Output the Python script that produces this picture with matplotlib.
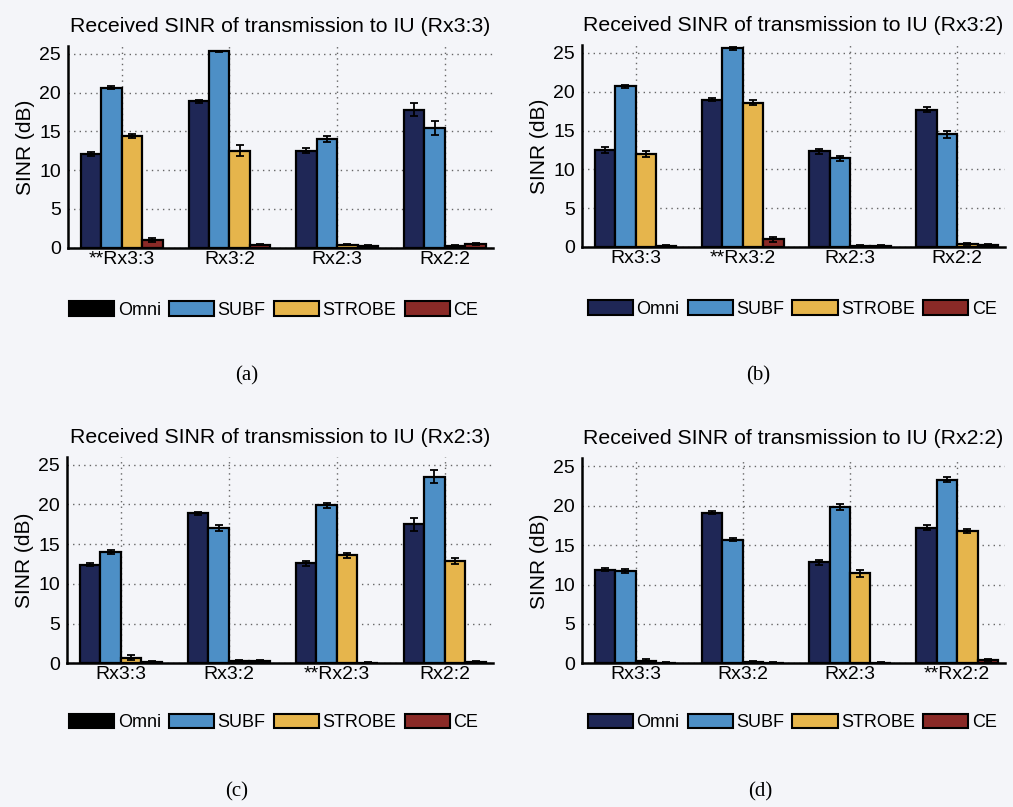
import numpy as np
import matplotlib
matplotlib.use("Agg")
import matplotlib.pyplot as plt
from matplotlib.patches import Patch

plt.rcParams['font.family'] = ['Liberation Sans', 'DejaVu Sans']

schemes = ['Omni', 'SUBF', 'STROBE', 'CE']
colors = ['#1f2756', '#4d8fc6', '#e6b54c', '#8a2a27']

# group labels per panel (** marks the rank actually used by the IU)
labels_a = ['**Rx3:3', 'Rx3:2', 'Rx2:3', 'Rx2:2']
labels_b = ['Rx3:3', '**Rx3:2', 'Rx2:3', 'Rx2:2']
labels_c = ['Rx3:3', 'Rx3:2', '**Rx2:3', 'Rx2:2']
labels_d = ['Rx3:3', 'Rx3:2', 'Rx2:3', '**Rx2:2']

titles = ['Received SINR of transmission to IU (Rx3:3)',
          'Received SINR of transmission to IU (Rx3:2)',
          'Received SINR of transmission to IU (Rx2:3)',
          'Received SINR of transmission to IU (Rx2:2)']

# SINR (dB), rows = scheme (Omni, SUBF, STROBE, CE), cols = group
sinr_a = [[12.1, 18.9, 12.5, 17.8],
          [20.6, 25.3, 14.0, 15.4],
          [14.4, 12.5, 0.4, 0.2],
          [1.0, 0.4, 0.2, 0.5]]
err_a = [[0.3, 0.2, 0.3, 0.8],
         [0.2, 0.1, 0.4, 0.9],
         [0.3, 0.7, 0.1, 0.1],
         [0.2, 0.1, 0.1, 0.1]]

sinr_b = [[12.5, 19.0, 12.3, 17.7],
          [20.7, 25.6, 11.4, 14.5],
          [12.0, 18.6, 0.1, 0.4],
          [0.1, 1.0, 0.1, 0.3]]
err_b = [[0.4, 0.2, 0.3, 0.3],
         [0.2, 0.2, 0.3, 0.5],
         [0.4, 0.3, 0.1, 0.1],
         [0.1, 0.3, 0.1, 0.1]]

sinr_c = [[12.4, 18.9, 12.6, 17.5],
          [14.0, 17.0, 19.9, 23.5],
          [0.7, 0.3, 13.6, 12.9],
          [0.2, 0.3, 0.1, 0.2]]
err_c = [[0.2, 0.2, 0.3, 0.8],
         [0.3, 0.4, 0.3, 0.8],
         [0.3, 0.1, 0.3, 0.4],
         [0.1, 0.1, 0.1, 0.1]]

sinr_d = [[11.9, 19.1, 12.8, 17.2],
          [11.7, 15.7, 19.8, 23.3],
          [0.3, 0.2, 11.4, 16.8],
          [0.1, 0.1, 0.1, 0.4]]
err_d = [[0.2, 0.2, 0.3, 0.3],
         [0.3, 0.2, 0.4, 0.3],
         [0.2, 0.1, 0.4, 0.3],
         [0.1, 0.1, 0.1, 0.1]]

panels = [(labels_a, sinr_a, err_a), (labels_b, sinr_b, err_b),
          (labels_c, sinr_c, err_c), (labels_d, sinr_d, err_d)]

bg = '#f4f5f9'
fig = plt.figure(figsize=(10.13, 8.07), dpi=100, facecolor=bg)

# axes rectangles [left, bottom, width, height] in figure fraction
rects = [[0.067, 0.693, 0.420, 0.250],
         [0.5745, 0.694, 0.418, 0.250],
         [0.066, 0.178, 0.421, 0.256],
         [0.5745, 0.178, 0.418, 0.254]]
legend_pos = [(0.270, 0.616), (0.782, 0.617), (0.270, 0.105), (0.782, 0.105)]
captions = ['(a)', '(b)', '(c)', '(d)']
caption_pos = [(0.244, 0.528), (0.748, 0.528), (0.234, 0.013), (0.750, 0.013)]

width = 0.19
x = np.arange(1, 5)

for i, (labels, vals, errs) in enumerate(panels):
    ax = fig.add_axes(rects[i])
    ax.set_facecolor('none')
    for k in range(4):
        pos = x + (k - 1.5) * width
        ax.bar(pos, vals[k], width, color=colors[k], edgecolor='black',
               linewidth=1.6, zorder=3)
        ax.errorbar(pos, vals[k], yerr=errs[k], fmt='none', ecolor='black',
                    elinewidth=1.3, capsize=3, capthick=1.3, zorder=4)
    ax.set_xlim(0.5, 4.45)
    ax.set_ylim(0, 26)
    ax.set_yticks([0, 5, 10, 15, 20, 25])
    ax.set_xticks(x)
    ax.set_xticklabels(labels)
    ax.tick_params(axis='both', labelsize=14, length=0, pad=2)
    ax.tick_params(axis='y', pad=5)
    ax.grid(True, linestyle=(0, (1, 3)), color='#666666', linewidth=1.0, zorder=0)
    for s in ['top', 'right']:
        ax.spines[s].set_visible(False)
    ax.spines['left'].set_linewidth(1.8)
    ax.spines['bottom'].set_linewidth(1.8)
    ax.set_ylabel('SINR (dB)', fontsize=15, labelpad=3)
    ax.set_title(titles[i], fontsize=15.3, pad=10)

    # legend patches (the Omni swatch prints black in (a) and (c))
    omni_c = 'black' if i in (0, 2) else colors[0]
    handles = [Patch(facecolor=omni_c, edgecolor='black', linewidth=1.5)]
    handles += [Patch(facecolor=c, edgecolor='black', linewidth=1.5) for c in colors[1:]]
    fig.legend(handles, schemes, loc='center', bbox_to_anchor=legend_pos[i],
               ncol=4, frameon=False, fontsize=13, handlelength=2.5,
               handleheight=0.85, handletextpad=0.2, columnspacing=0.45)
    fig.text(caption_pos[i][0], caption_pos[i][1], captions[i], fontsize=15,
             family=['Liberation Serif', 'DejaVu Serif'], ha='center')

fig.savefig('out.png', dpi=100, facecolor=bg)
